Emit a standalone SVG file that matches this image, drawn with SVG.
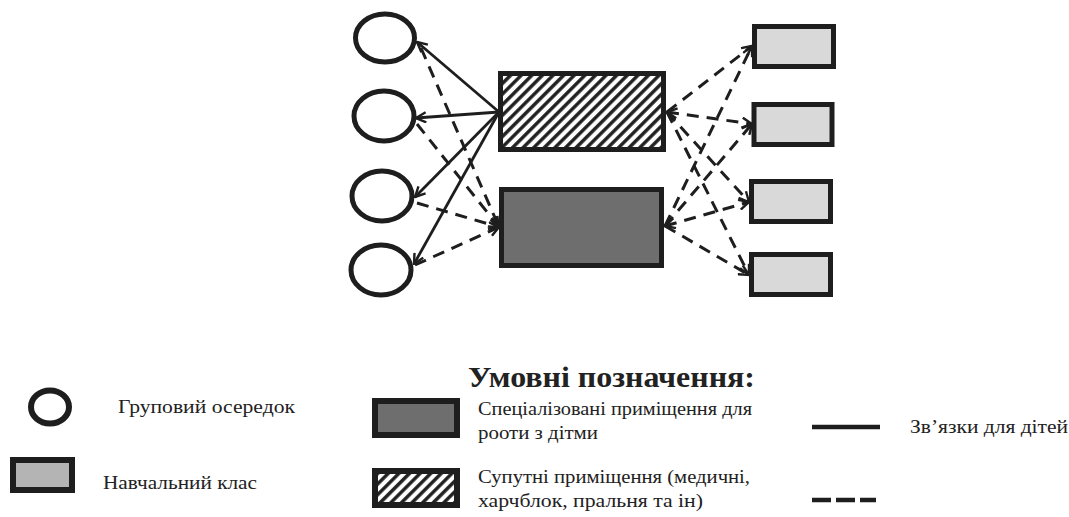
<svg xmlns="http://www.w3.org/2000/svg" width="1069" height="517" viewBox="0 0 1069 517">
<defs>
<style>
.node{stroke:#1e1e1e;stroke-width:5}
.circ{fill:#fff}
.hatch{fill:url(#hatch)}
.dark{fill:#6e6e6e}
.light{fill:#d9d9d9}
.mid{fill:#b4b4b4}
.solid{stroke:#1e1e1e;stroke-width:2.8;fill:none}
.dash{stroke:#1e1e1e;stroke-width:3;fill:none;stroke-dasharray:12 8}
.txt{font-size:19px;fill:#222}
.title{font-size:30px;font-weight:bold;fill:#222}
</style>
<pattern id="hatch" width="7.5" height="7.5" patternUnits="userSpaceOnUse" patternTransform="rotate(45)">
<rect width="7.5" height="7.5" fill="#fff"/>
<line x1="1.8" y1="-1" x2="1.8" y2="9" stroke="#1e1e1e" stroke-width="3.4"/>
</pattern>
<marker id="arr" viewBox="0 0 12 12" refX="11" refY="6" markerWidth="12" markerHeight="12" markerUnits="userSpaceOnUse" orient="auto-start-reverse">
<path d="M1,1 L11,6 L1,11" fill="none" stroke="#1e1e1e" stroke-width="2.4"/>
</marker>
</defs>
<rect width="1069" height="517" fill="#fff"/>

<g id="connectors">
<g id="solid-links" marker-end="url(#arr)">
<line class="solid" x1="499" y1="112" x2="417" y2="42"/>
<line class="solid" x1="499" y1="112" x2="416" y2="118"/>
<line class="solid" x1="499" y1="112" x2="415" y2="197"/>
<line class="solid" x1="499" y1="112" x2="414" y2="264"/>
</g>
<g id="dashed-left" marker-end="url(#arr)">
<line class="dash" x1="421" y1="48" x2="499" y2="227"/>
<line class="dash" x1="417" y1="124" x2="499" y2="227"/>
<line class="dash" x1="417" y1="203" x2="499" y2="227"/>
<line class="dash" x1="415" y1="265" x2="499" y2="227"/>
</g>
<g id="dashed-right" marker-end="url(#arr)">
<line class="dash" x1="667" y1="112" x2="752" y2="46"/>
<line class="dash" x1="667" y1="112" x2="752" y2="124" marker-start="url(#arr)"/>
<line class="dash" x1="667" y1="112" x2="749" y2="202"/>
<line class="dash" x1="667" y1="112" x2="749" y2="275"/>
<line class="dash" x1="665" y1="226" x2="752" y2="46"/>
<line class="dash" x1="665" y1="226" x2="752" y2="124"/>
<line class="dash" x1="665" y1="226" x2="749" y2="202" marker-start="url(#arr)"/>
<line class="dash" x1="665" y1="226" x2="749" y2="275"/>
</g>
</g>

<g id="group1"><ellipse class="node circ" cx="385" cy="38" rx="29.5" ry="24"/></g>
<g id="group2"><ellipse class="node circ" cx="384" cy="116" rx="30" ry="25"/></g>
<g id="group3"><ellipse class="node circ" cx="382" cy="196" rx="30" ry="25"/></g>
<g id="group4"><ellipse class="node circ" cx="381" cy="270" rx="30" ry="25"/></g>

<g id="aux-rooms"><rect class="node hatch" x="500.5" y="73.5" width="163" height="76"/></g>
<g id="special-rooms"><rect class="node dark" x="501.5" y="189.5" width="160" height="76"/></g>

<g id="class1"><rect class="node light" x="754.5" y="26.5" width="79" height="40"/></g>
<g id="class2"><rect class="node light" x="754" y="104.5" width="78" height="40"/></g>
<g id="class3"><rect class="node light" x="751.5" y="181.5" width="79" height="40"/></g>
<g id="class4"><rect class="node light" x="751.5" y="254.5" width="79" height="40"/></g>

<g id="legend" font-family="'Liberation Serif', 'DejaVu Serif', serif">
<text class="title" x="468" y="387" textLength="287" lengthAdjust="spacingAndGlyphs">Умовні позначення:</text>
<g id="legend-group">
<ellipse cx="50" cy="407" rx="19" ry="16.5" fill="#fff" stroke="#1e1e1e" stroke-width="6"/>
<text class="txt" x="118" y="413" textLength="177" lengthAdjust="spacingAndGlyphs">Груповий осередок</text>
</g>
<g id="legend-class">
<rect class="mid" x="13" y="460" width="59" height="30" stroke="#1e1e1e" stroke-width="6"/>
<text class="txt" x="103" y="489" textLength="154" lengthAdjust="spacingAndGlyphs">Навчальний клас</text>
</g>
<g id="legend-special">
<rect class="dark" x="375" y="401" width="82" height="34" stroke="#1e1e1e" stroke-width="6"/>
<text class="txt" x="478" y="415" textLength="274" lengthAdjust="spacingAndGlyphs">Спеціалізовані приміщення для</text>
<text class="txt" x="478" y="439" textLength="120" lengthAdjust="spacingAndGlyphs">рооти з дітми</text>
</g>
<g id="legend-aux">
<rect class="hatch" x="375" y="471" width="82" height="34" stroke="#1e1e1e" stroke-width="6"/>
<text class="txt" x="478" y="483" textLength="272" lengthAdjust="spacingAndGlyphs">Супутні приміщення (медичні,</text>
<text class="txt" x="478" y="507" textLength="225" lengthAdjust="spacingAndGlyphs">харчблок, пральня та ін)</text>
</g>
<g id="legend-solid">
<line x1="812" y1="427" x2="880" y2="427" stroke="#1e1e1e" stroke-width="4.5"/>
<text class="txt" x="910" y="433" textLength="158" lengthAdjust="spacingAndGlyphs">Зв’язки для дітей</text>
</g>
<g id="legend-dash">
<line x1="812" y1="500" x2="876" y2="500" stroke="#1e1e1e" stroke-width="4.5" stroke-dasharray="19 5"/>
</g>
</g>
</svg>
